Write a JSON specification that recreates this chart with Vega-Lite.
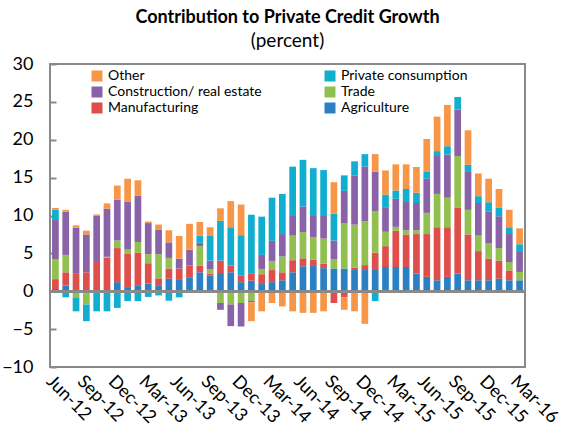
{
  "$schema": "https://vega.github.io/schema/vega-lite/v6.json",
  "width": 475,
  "height": 303,
  "autosize": {"type": "none"},
  "padding": {"left": 50, "top": 64, "right": 42, "bottom": 65},
  "background": "white",
  "config": {
    "view": {"stroke": "#898989", "strokeWidth": 2},
    "font": "Lato"
  },
  "title": {
    "text": "Contribution to Private Credit Growth",
    "subtitle": "(percent)",
    "anchor": "middle",
    "font": "Lato",
    "fontSize": 18,
    "fontWeight": "bold",
    "color": "#000000",
    "subtitleFont": "Lato",
    "subtitleFontSize": 19,
    "subtitleColor": "#000000",
    "subtitlePadding": 5,
    "offset": 4
  },
  "datasets": {
    "sectors": [
      {"code": "A", "sector": "Agriculture", "k": 1},
      {"code": "M", "sector": "Manufacturing", "k": 2},
      {"code": "T", "sector": "Trade", "k": 3},
      {"code": "C", "sector": "Construction/ real estate", "k": 4},
      {"code": "P", "sector": "Private consumption", "k": 5},
      {"code": "O", "sector": "Other", "k": 6}
    ],
    "months": [
      {"m": "Jun-12", "A": 0.3, "M": 1.3, "T": 2.6, "C": 5.2, "P": 1.4, "O": 0.2},
      {"m": "Jul-12", "A": 0.75, "M": 1.75, "T": 2.3, "C": 5.7, "P": -0.8, "O": 0.25},
      {"m": "Aug-12", "A": 0, "M": 2.3, "T": -0.8, "C": 6.1, "P": -1.85, "O": 0.3},
      {"m": "Sep-12", "A": -0.3, "M": 2.5, "T": -1.45, "C": 5.0, "P": -2.2, "O": 0.5},
      {"m": "Oct-12", "A": 0, "M": 4.0, "T": 0, "C": 5.95, "P": -2.65, "O": 0.2},
      {"m": "Nov-12", "A": 0.1, "M": 4.35, "T": 0.1, "C": 6.35, "P": -2.65, "O": 0.7},
      {"m": "Dec-12", "A": 1.2, "M": 4.5, "T": 1.0, "C": 5.4, "P": -2.2, "O": 1.85},
      {"m": "Jan-13", "A": 0.55, "M": 4.45, "T": 0.5, "C": 6.35, "P": -1.3, "O": 3.0},
      {"m": "Feb-13", "A": 0.8, "M": 4.3, "T": 1.4, "C": 6.1, "P": -1.3, "O": 2.05},
      {"m": "Mar-13", "A": 1.0, "M": 2.7, "T": 1.2, "C": 4.1, "P": -0.75, "O": 0.2},
      {"m": "Apr-13", "A": 0.8, "M": 0.9, "T": 3.2, "C": 3.2, "P": -0.55, "O": 0.7},
      {"m": "May-13", "A": 1.65, "M": 1.35, "T": 1.4, "C": 2.05, "P": -1.25, "O": 1.6},
      {"m": "Jun-13", "A": 1.6, "M": 1.4, "T": 0, "C": 1.3, "P": -0.8, "O": 3.0},
      {"m": "Jul-13", "A": 1.85, "M": 1.55, "T": 0, "C": 2.1, "P": 0, "O": 3.4},
      {"m": "Aug-13", "A": 2.5, "M": 0.9, "T": 2.55, "C": 0.45, "P": 0.95, "O": 1.8},
      {"m": "Sep-13", "A": 2.05, "M": 0.25, "T": 0.6, "C": 1.15, "P": 3.25, "O": 1.15},
      {"m": "Oct-13", "A": 2.4, "M": 1.65, "T": -1.55, "C": -0.9, "P": 5.25, "O": 1.65},
      {"m": "Nov-13", "A": 2.5, "M": 0.9, "T": -1.75, "C": -2.85, "P": 5.05, "O": 3.45},
      {"m": "Dec-13", "A": 1.2, "M": 0.9, "T": -1.55, "C": -3.1, "P": 5.3, "O": 4.05},
      {"m": "Jan-14", "A": 1.4, "M": 0.9, "T": -1.25, "C": -0.2, "P": 7.8, "O": -2.5},
      {"m": "Feb-14", "A": 0.95, "M": 1.3, "T": 0.7, "C": 1.85, "P": 5.05, "O": -2.65},
      {"m": "Mar-14", "A": 1.2, "M": 1.6, "T": 1.2, "C": 2.65, "P": 5.7, "O": -1.55},
      {"m": "Apr-14", "A": 1.45, "M": 1.05, "T": 2.1, "C": 2.95, "P": 5.3, "O": -2.0},
      {"m": "May-14", "A": 2.5, "M": 1.6, "T": 3.25, "C": 2.7, "P": 6.4, "O": -2.65},
      {"m": "Jun-14", "A": 3.3, "M": 1.05, "T": 3.45, "C": 3.4, "P": 6.15, "O": -2.85},
      {"m": "Jul-14", "A": 3.45, "M": 0.7, "T": 3.0, "C": 2.9, "P": 6.2, "O": -2.85},
      {"m": "Aug-14", "A": 3.05, "M": 0.6, "T": 3.3, "C": 3.1, "P": 5.95, "O": -2.65},
      {"m": "Sep-14", "A": 3.0, "M": -1.55, "T": 1.2, "C": 2.5, "P": 3.55, "O": 4.15},
      {"m": "Oct-14", "A": 3.0, "M": -0.8, "T": 5.95, "C": 4.3, "P": 2.05, "O": -1.65},
      {"m": "Nov-14", "A": 2.8, "M": 0.3, "T": 5.7, "C": 6.5, "P": 1.85, "O": -2.65},
      {"m": "Dec-14", "A": 2.8, "M": 0.65, "T": 5.8, "C": 7.2, "P": 1.65, "O": -4.3},
      {"m": "Jan-15", "A": 2.8, "M": 2.3, "T": 5.5, "C": 5.2, "P": -1.3, "O": 2.3},
      {"m": "Feb-15", "A": 3.2, "M": 2.75, "T": 1.9, "C": 3.15, "P": 1.75, "O": 3.2},
      {"m": "Mar-15", "A": 3.2, "M": 4.8, "T": 0.5, "C": 3.7, "P": 1.1, "O": 3.45},
      {"m": "Apr-15", "A": 3.2, "M": 4.3, "T": 0.55, "C": 3.85, "P": 1.6, "O": 3.25},
      {"m": "May-15", "A": 2.35, "M": 5.2, "T": 0.5, "C": 3.6, "P": 1.35, "O": 3.4},
      {"m": "Jun-15", "A": 1.9, "M": 5.65, "T": 2.8, "C": 4.5, "P": 0.9, "O": 4.35},
      {"m": "Jul-15", "A": 1.45, "M": 7.0, "T": 4.4, "C": 5.0, "P": 0.65, "O": 4.55},
      {"m": "Aug-15", "A": 1.9, "M": 6.55, "T": 3.9, "C": 5.7, "P": 1.1, "O": 5.45},
      {"m": "Sep-15", "A": 2.35, "M": 8.65, "T": 6.85, "C": 6.15, "P": 1.65, "O": 0},
      {"m": "Oct-15", "A": 1.45, "M": 6.05, "T": 3.25, "C": 5.0, "P": 0.95, "O": 4.55},
      {"m": "Nov-15", "A": 1.45, "M": 3.85, "T": 2.05, "C": 4.3, "P": 0.9, "O": 3.0},
      {"m": "Dec-15", "A": 1.45, "M": 2.85, "T": 2.0, "C": 4.25, "P": 1.2, "O": 3.1},
      {"m": "Jan-16", "A": 1.65, "M": 2.4, "T": 1.65, "C": 4.2, "P": 1.1, "O": 2.5},
      {"m": "Feb-16", "A": 1.45, "M": 1.3, "T": 1.1, "C": 3.7, "P": 0.9, "O": 2.3},
      {"m": "Mar-16", "A": 1.45, "M": 0, "T": 1.1, "C": 2.75, "P": 0.9, "O": 2.1}
    ]
  },
  "data": {"name": "months"},
  "transform": [
    {"fold": ["A", "M", "T", "C", "P", "O"], "as": ["code", "v"]},
    {"lookup": "code", "from": {"data": {"name": "sectors"}, "key": "code", "fields": ["sector", "k"]}}
  ],
  "layer": [
    {
      "mark": {"type": "bar"},
      "encoding": {
        "x": {
          "field": "m",
          "type": "ordinal",
          "sort": null,
          "scale": {"paddingInner": 0.35, "paddingOuter": 0.2},
          "axis": {
            "title": null,
            "values": ["Jun-12", "Sep-12", "Dec-12", "Mar-13", "Jun-13", "Sep-13", "Dec-13", "Mar-14", "Jun-14", "Sep-14", "Dec-14", "Mar-15", "Jun-15", "Sep-15", "Dec-15", "Mar-16"],
            "labelAngle": 45,
            "labelAlign": "left",
            "labelBaseline": "top",
            "labelPadding": 5,
            "labelOverlap": false,
            "ticks": false,
            "domain": false,
            "labelFont": "Lato",
            "labelFontSize": 18,
            "labelColor": "#000000"
          }
        },
        "y": {
          "field": "v",
          "type": "quantitative",
          "stack": "zero",
          "scale": {"domain": [-10, 30], "nice": false},
          "axis": {
            "title": null,
            "values": [-10, -5, 0, 5, 10, 15, 20, 25, 30],
            "grid": false,
            "domain": false,
            "ticks": true,
            "tickSize": -6,
            "tickColor": "#898989",
            "tickWidth": 2,
            "labelPadding": 23,
            "labelOverlap": false,
            "labelFont": "Lato",
            "labelFontSize": 18,
            "labelColor": "#000000"
          }
        },
        "color": {
          "field": "sector",
          "type": "nominal",
          "scale": {
            "domain": ["Other", "Construction/ real estate", "Manufacturing", "Private consumption", "Trade", "Agriculture"],
            "range": ["#F79646", "#8A62A8", "#DE4F4B", "#12AECF", "#92C050", "#2B80C3"]
          },
          "legend": {
            "orient": "none",
            "legendX": 40,
            "legendY": 5,
            "columns": 2,
            "columnPadding": 61,
            "rowPadding": 2,
            "padding": 0,
            "title": null,
            "symbolType": "square",
            "symbolSize": 121,
            "symbolStrokeWidth": 0,
            "symbolOpacity": 1,
            "labelOffset": 4,
            "labelFont": "Lato",
            "labelFontSize": 14,
            "labelColor": "#000000"
          }
        },
        "order": {"field": "k", "type": "quantitative"}
      }
    },
    {
      "mark": {"type": "rule", "color": "#898989", "strokeWidth": 2.5},
      "encoding": {
        "y": {
          "datum": 0,
          "type": "quantitative",
          "axis": {
            "title": null,
            "values": [-10, -5, 0, 5, 10, 15, 20, 25, 30],
            "grid": false,
            "domain": false,
            "ticks": true,
            "tickSize": -6,
            "tickColor": "#898989",
            "tickWidth": 2,
            "labelPadding": 23,
            "labelOverlap": false,
            "labelFont": "Lato",
            "labelFontSize": 18,
            "labelColor": "#000000"
          }
        }
      }
    }
  ]
}
